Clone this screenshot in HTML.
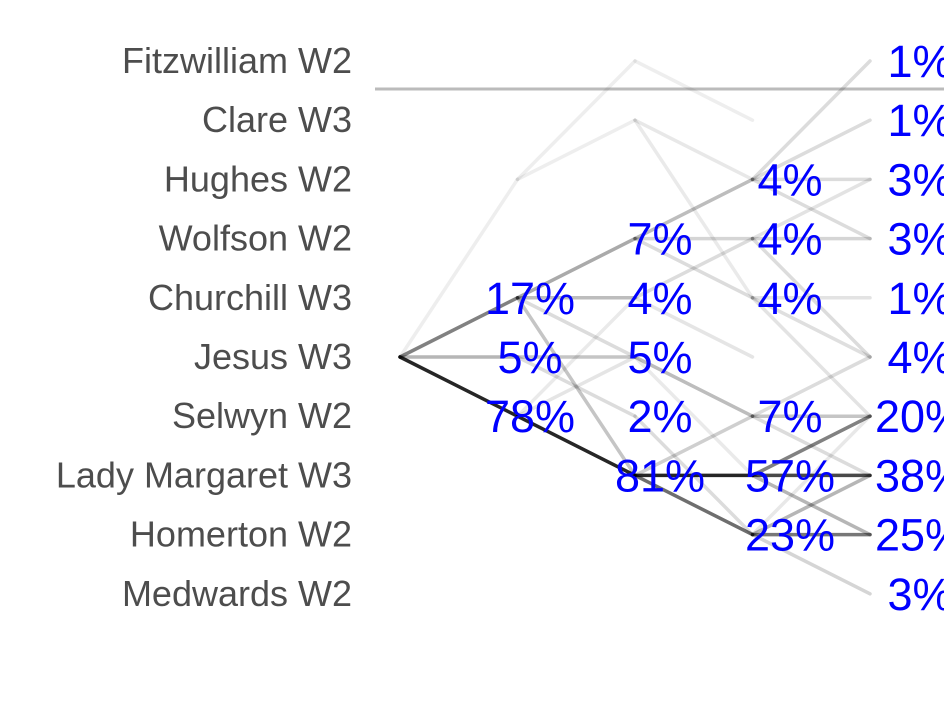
<!DOCTYPE html>
<html><head><meta charset="utf-8"><style>
html,body{margin:0;padding:0;background:#fff;width:944px;height:708px;overflow:hidden}
svg{display:block}
.row{font-family:"Liberation Sans",sans-serif;font-size:36px;fill:#4d4d4d}
.pct{font-family:"Liberation Sans",sans-serif;font-size:45px;fill:#0000ff}
</style></head><body>
<svg id="chart" width="944" height="708" viewBox="0 0 944 708">
<line x1="375" y1="89" x2="944" y2="89" stroke="#bbb" stroke-width="3"/>
<g id="edges"></g>
<g id="rows"></g>
<g id="pcts"></g>
</svg>
<script>
const crews = ["Fitzwilliam W2","Clare W3","Hughes W2","Wolfson W2","Churchill W3","Jesus W3","Selwyn W2","Lady Margaret W3","Homerton W2","Medwards W2"];
// node probabilities per day: [row, percent]
const day1 = [[4,17],[5,5],[6,78]];
const day2 = [[3,7],[4,4],[5,5],[6,2],[7,81]];
const day3 = [[2,4],[3,4],[4,4],[6,7],[7,57],[8,23]];
const day4 = [[0,1],[1,1],[2,3],[3,3],[4,1],[5,4],[6,20],[7,38],[8,25],[9,3]];
// edges: [day, fromRow, toRow, weight]
const edges = [
 [0,5,4,0.17],[0,5,5,0.05],[0,5,6,0.78],[0,5,2,0.002],
 [1,4,3,0.07],[1,4,4,0.04],[1,4,7,0.03],[1,4,5,0.01],[1,6,7,0.78],[1,5,5,0.03],[1,5,6,0.01],[1,2,1,0.002],[1,2,0,0.002],[1,6,5,0.005],[1,6,4,0.003],
 [2,3,2,0.04],[2,3,3,0.015],[2,3,4,0.01],[2,7,7,0.57],[2,7,8,0.23],[2,7,6,0.02],[2,5,6,0.04],[2,4,3,0.01],[2,4,5,0.005],[2,1,2,0.004],[2,0,1,0.002],[2,1,4,0.003],[2,6,8,0.01],[2,5,7,0.003],
 [3,7,7,0.38],[3,7,6,0.17],[3,8,8,0.2],[3,8,7,0.05],[3,7,8,0.05],[3,8,9,0.015],[3,6,6,0.03],[3,6,7,0.01],[3,2,0,0.01],[3,2,1,0.01],[3,2,2,0.01],[3,2,3,0.01],[3,3,3,0.015],[3,3,2,0.006],[3,3,5,0.01],[3,4,4,0.006],[3,4,5,0.008],[3,4,6,0.006],[3,6,5,0.01],[3,8,6,0.004]
];
const NS="http://www.w3.org/2000/svg";
const xLine = d => 400 + d*117.5;
const xLab = d => 530 + (d-1)*130;
const yRow = r => 61 + r*59.2;
const eg=document.getElementById('edges');
edges.slice().sort((a,b)=>a[3]-b[3]).forEach(e=>{
  const l=document.createElementNS(NS,'line');
  
  
  l.setAttribute('x1',xLine(e[0]));l.setAttribute('y1',yRow(e[1]));
  l.setAttribute('x2',xLine(e[0]+1));l.setAttribute('y2',yRow(e[2]));
  const op=Math.min(0.85,1.1*Math.pow(e[3],0.45));
  l.setAttribute('stroke','#000');l.setAttribute('stroke-opacity',op.toFixed(3));
  l.setAttribute('stroke-width',3.5);l.setAttribute('stroke-linecap','round');
  eg.appendChild(l);
});
const rg=document.getElementById('rows');
crews.forEach((c,i)=>{
  const t=document.createElementNS(NS,'text');
  
  
  t.setAttribute('class','row');t.setAttribute('x',352);t.setAttribute('y',yRow(i)+12);
  t.setAttribute('text-anchor','end');t.textContent=c;rg.appendChild(t);
});
const pg=document.getElementById('pcts');
[day1,day2,day3,day4].forEach((arr,di)=>{
  arr.forEach(p=>{
    const t=document.createElementNS(NS,'text');
    
    
    t.setAttribute('class','pct');t.setAttribute('x',xLab(di+1));t.setAttribute('y',yRow(p[0])+16);
    t.setAttribute('text-anchor','middle');t.textContent=p[1]+'%';pg.appendChild(t);
  });
});
</script>
</body></html>
